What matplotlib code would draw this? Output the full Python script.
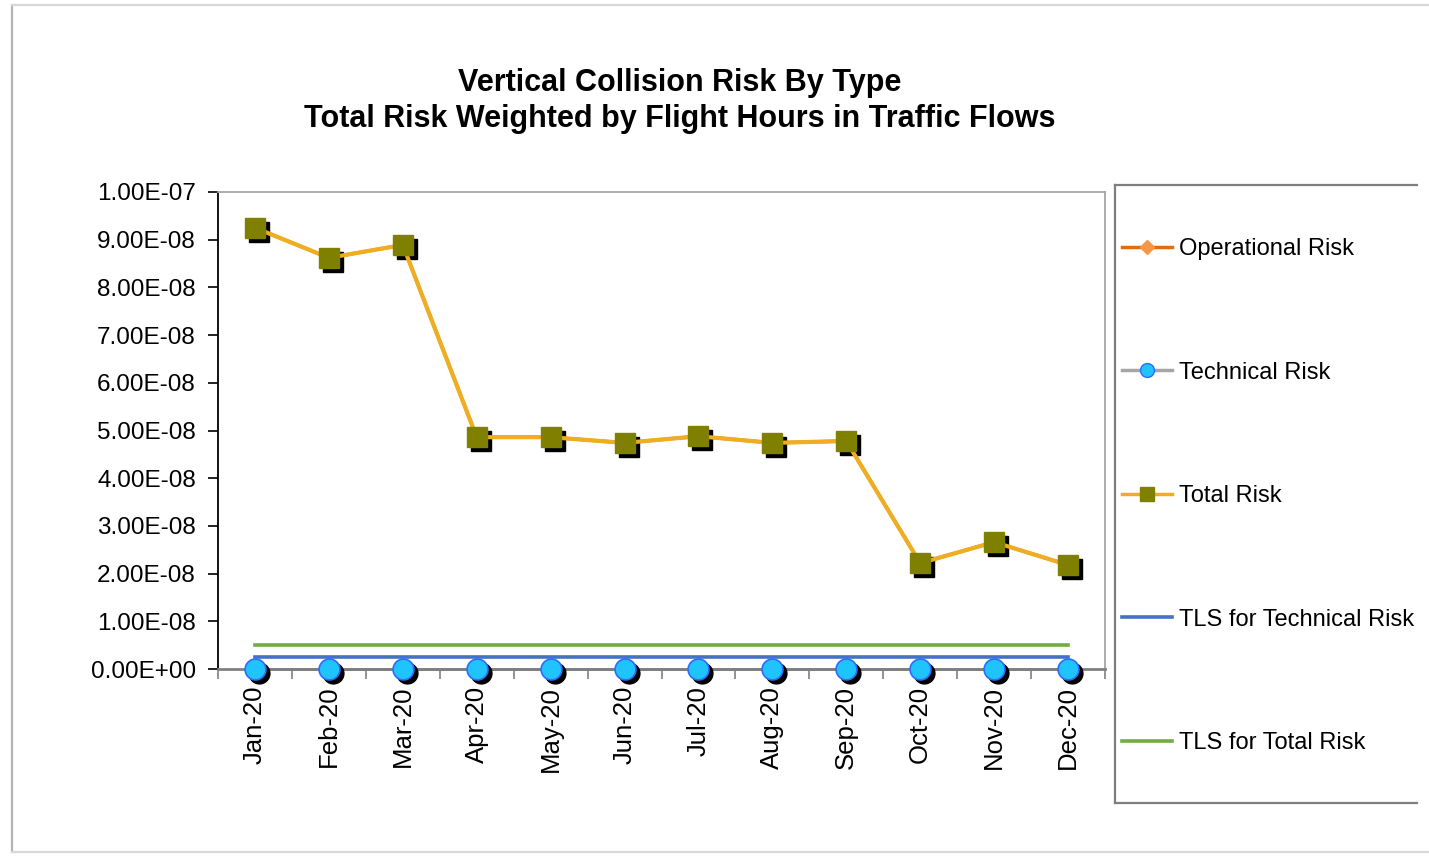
import numpy as np
import matplotlib
matplotlib.use("Agg")
import matplotlib.pyplot as plt
import matplotlib.transforms as mtransforms
from matplotlib.lines import Line2D
from matplotlib.ticker import FuncFormatter, FixedLocator

plt.rcParams['font.family'] = ['Liberation Sans', 'DejaVu Sans']

months = ["Jan-20", "Feb-20", "Mar-20", "Apr-20", "May-20", "Jun-20",
          "Jul-20", "Aug-20", "Sep-20", "Oct-20", "Nov-20", "Dec-20"]
total_risk = [9.25e-8, 8.62e-8, 8.89e-8, 4.86e-8, 4.86e-8, 4.74e-8,
              4.88e-8, 4.74e-8, 4.78e-8, 2.22e-8, 2.66e-8, 2.18e-8]
operational_risk = [9.25e-8, 8.62e-8, 8.89e-8, 4.86e-8, 4.86e-8, 4.74e-8,
                    4.88e-8, 4.74e-8, 4.78e-8, 2.22e-8, 2.66e-8, 2.18e-8]
technical_risk = [1e-11, 1e-11, 1e-11, 1e-11, 1e-11, 1e-11,
                  1e-11, 1e-11, 1e-11, 1e-11, 1e-11, 1e-11]
tls_technical = 2.5e-9
tls_total = 5.0e-9

W, H = 1429, 856
fig = plt.figure(figsize=(W / 100, H / 100), dpi=100)
fig.patch.set_facecolor("white")


def fig_line(x0, y0, x1, y1, color, lw=1.6):
    fig.add_artist(Line2D([x0 / W, x1 / W], [1 - y0 / H, 1 - y1 / H],
                          transform=fig.transFigure, color=color, lw=lw))


# outer chart frame
fig_line(12, 5, 12, 852, "#b4b4b4")
fig_line(12, 5, W, 5, "#d8d8d8")
fig_line(12, 852, W, 852, "#d8d8d8")

ax = fig.add_axes([218 / W, 1 - 669 / H, (1105 - 218) / W, (669 - 192) / H])
x = np.arange(len(months))

shadow = mtransforms.offset_copy(ax.transData, fig=fig, x=4, y=-4, units="dots")

# threshold lines
ax.plot(x, [tls_total] * len(x), color="#70AD47", lw=2.6, zorder=2)
ax.plot(x, [tls_technical] * len(x), color="#4472C4", lw=2.6, zorder=2)

# operational risk (beneath total risk)
ax.plot(x, operational_risk, color="#E46C0A", lw=2.5, marker="D", ms=7,
        mfc="#F79646", mec="#F79646", zorder=3)

# technical risk
ax.plot(x, technical_risk, color="#7f7f7f", lw=2.0, zorder=3, clip_on=False)
ax.plot(x, technical_risk, ls="none", marker="o", ms=15, color="black",
        transform=shadow, zorder=4, clip_on=False)
ax.plot(x, technical_risk, ls="none", marker="o", ms=15, mfc="#1FC4FF",
        mec="#2F6BFF", mew=1.2, zorder=5, clip_on=False)

# total risk
ax.plot(x, total_risk, ls="none", marker="s", ms=15, color="black",
        transform=shadow, zorder=5)
ax.plot(x, total_risk, color="#EFAE22", lw=3.0, zorder=6)
ax.plot(x, total_risk, ls="none", marker="s", ms=15, mfc="#808000",
        mec="#808000", zorder=7)

ax.set_xlim(-0.5, len(months) - 0.5)
ax.set_ylim(0, 1e-7)
ax.set_yticks(np.arange(0, 1.01e-7, 1e-8))
ax.yaxis.set_major_formatter(FuncFormatter(lambda v, p: f"{v:.2E}"))
ax.tick_params(axis="y", direction="out", length=7, width=1.2, color="black",
               labelsize=17.5, pad=9)

ax.set_xticks(x)
ax.set_xticklabels(months, rotation=90, fontsize=18.5)
ax.tick_params(axis="x", which="major", length=0, pad=12)
ax.xaxis.set_minor_locator(FixedLocator(np.arange(-0.5, len(months), 1.0)))
ax.tick_params(axis="x", which="minor", direction="out", length=7, width=1.2,
               color="#808080")

ax.spines["left"].set_color("black")
ax.spines["left"].set_linewidth(1.3)
ax.spines["bottom"].set_color("#808080")
ax.spines["bottom"].set_linewidth(2.0)
for s in ("top", "right"):
    ax.spines[s].set_color("#a6a6a6")
    ax.spines[s].set_linewidth(1.3)

fig.text(680 / W, 1 - 101 / H,
         "Vertical Collision Risk By Type\nTotal Risk Weighted by Flight Hours in Traffic Flows",
         ha="center", va="center", fontsize=22, fontweight="bold", linespacing=1.25)

# legend box (open on the right)
fig_line(1115, 185, 1417, 185, "#7f7f7f")
fig_line(1115, 185, 1115, 803, "#7f7f7f")
fig_line(1115, 803, 1417, 803, "#7f7f7f")

handles = [
    Line2D([], [], color="#E46C0A", lw=2.5, marker="D", ms=7, mfc="#F79646", mec="#F79646"),
    Line2D([], [], color="#A6A6A6", lw=2.5, marker="o", ms=10, mfc="#1FC4FF", mec="#2F6BFF"),
    Line2D([], [], color="#EFAE22", lw=2.5, marker="s", ms=10, mfc="#808000", mec="#808000"),
    Line2D([], [], color="#4472C4", lw=2.6),
    Line2D([], [], color="#70AD47", lw=2.6),
]
labels = ["Operational Risk", "Technical Risk", "Total Risk",
          "TLS for Technical Risk", "TLS for Total Risk"]
fig.legend(handles, labels, loc="upper left", bbox_to_anchor=(1122 / W, 1 - 238 / H),
           frameon=False, fontsize=17, handlelength=2.1, handletextpad=0.3,
           labelspacing=4.3, borderpad=0, borderaxespad=0)

fig.savefig("out.png", dpi=100, facecolor="white")
